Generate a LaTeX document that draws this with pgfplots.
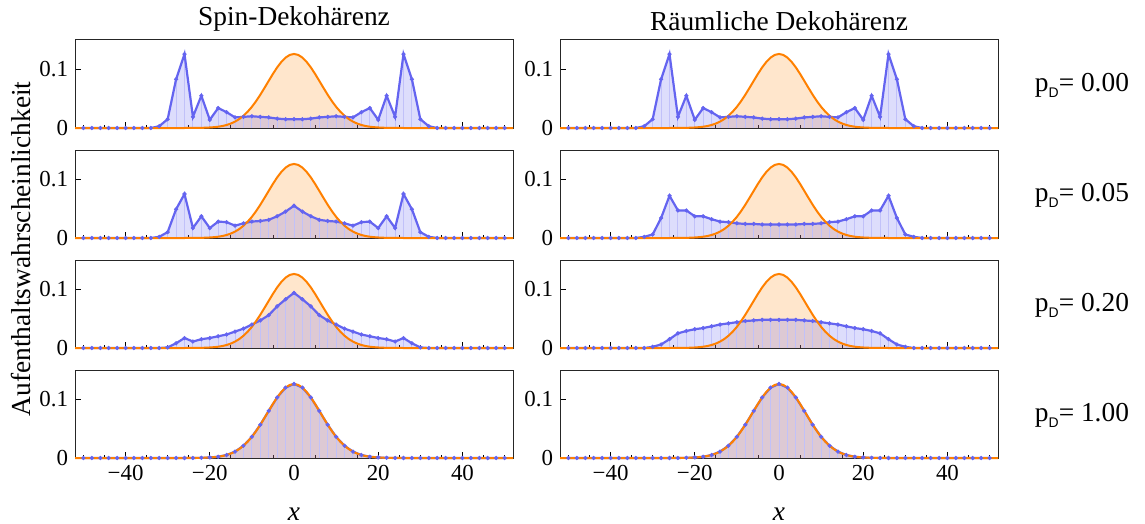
\documentclass[border=0pt]{standalone}
\usepackage{fontspec}
\setmainfont{Liberation Serif}
\setsansfont{Liberation Sans}
\usepackage{pgfplots}
\usepackage{pgfplotstable}
\pgfplotsset{compat=1.18}
\usepgfplotslibrary{groupplots}

\definecolor{qblue}{RGB}{100,100,240}
\definecolor{qorange}{RGB}{255,128,0}
\newcommand{\bigf}{\fontsize{13.75}{16}\selectfont}

% walk distributions at even sites (s = spin, r = spatial decoherence)
\pgfplotstableread{
x s0 s05 s20 s100 r0 r05 r20
-50 0 0 0 0 0 0 0
-48 0 0 0 0 0 0 0
-46 0 0 0 0 0 0 0
-44 0 0 0 0 0 0 0
-42 0 0 0 0 0 0 0
-40 0 0 0 0 0 0 0
-38 0 0 0 0 0 0 0
-36 0 0 0 0 0 0 0
-34 0 0 0 0 0 0 0
-32 0.003 0.002 0 0 0.003 0.002 0
-30 0.015 0.010 0.001 0 0.015 0.006 0.002
-28 0.083 0.049 0.008 0 0.083 0.034 0.006
-26 0.126 0.075 0.017 0 0.126 0.072 0.015
-24 0.019 0.017 0.011 0.0001 0.019 0.047 0.025
-22 0.055 0.037 0.015 0.0003 0.055 0.047 0.029
-20 0.014 0.017 0.017 0.0009 0.014 0.037 0.032
-18 0.034 0.028 0.020 0.0022 0.034 0.037 0.034
-16 0.027 0.027 0.023 0.0051 0.027 0.032 0.037
-14 0.018 0.021 0.028 0.0109 0.018 0.028 0.040
-12 0.019 0.025 0.033 0.0209 0.019 0.027 0.042
-10 0.020 0.028 0.040 0.0361 0.020 0.025 0.044
-8 0.019 0.029 0.047 0.0567 0.019 0.024 0.046
-6 0.018 0.031 0.056 0.0804 0.018 0.024 0.047
-4 0.016 0.037 0.071 0.1033 0.016 0.023 0.048
-2 0.015 0.045 0.083 0.1200 0.015 0.023 0.048
0 0.015 0.055 0.094 0.1262 0.015 0.023 0.048
2 0.015 0.045 0.083 0.1200 0.015 0.023 0.048
4 0.016 0.037 0.071 0.1033 0.016 0.023 0.048
6 0.018 0.031 0.056 0.0804 0.018 0.024 0.047
8 0.019 0.029 0.047 0.0567 0.019 0.024 0.046
10 0.020 0.028 0.040 0.0361 0.020 0.025 0.044
12 0.019 0.025 0.033 0.0209 0.019 0.027 0.042
14 0.018 0.021 0.028 0.0109 0.018 0.028 0.040
16 0.027 0.027 0.023 0.0051 0.027 0.032 0.037
18 0.034 0.028 0.020 0.0022 0.034 0.037 0.034
20 0.014 0.017 0.017 0.0009 0.014 0.037 0.032
22 0.055 0.037 0.015 0.0003 0.055 0.047 0.029
24 0.019 0.017 0.011 0.0001 0.019 0.047 0.025
26 0.126 0.075 0.017 0 0.126 0.072 0.015
28 0.083 0.049 0.008 0 0.083 0.034 0.006
30 0.015 0.010 0.001 0 0.015 0.006 0.002
32 0.003 0.002 0 0 0.003 0.002 0
34 0 0 0 0 0 0 0
36 0 0 0 0 0 0 0
38 0 0 0 0 0 0 0
40 0 0 0 0 0 0 0
42 0 0 0 0 0 0 0
44 0 0 0 0 0 0 0
46 0 0 0 0 0 0 0
48 0 0 0 0 0 0 0
50 0 0 0 0 0 0 0
}\walk

% classical distribution
\pgfplotstableread{
x g
-52 0
-26 0
-24 0.0001
-23 0.0002
-22 0.0003
-21 0.0005
-20 0.0009
-19 0.0014
-18 0.0022
-17 0.0034
-16 0.0051
-15 0.0076
-14 0.0109
-13 0.0153
-12 0.0209
-11 0.0278
-10 0.0361
-9 0.0458
-8 0.0567
-7 0.0684
-6 0.0804
-5 0.0923
-4 0.1033
-3 0.1127
-2 0.1200
-1 0.1246
0 0.1262
1 0.1246
2 0.1200
3 0.1127
4 0.1033
5 0.0923
6 0.0804
7 0.0684
8 0.0567
9 0.0458
10 0.0361
11 0.0278
12 0.0209
13 0.0153
14 0.0109
15 0.0076
16 0.0051
17 0.0034
18 0.0022
19 0.0014
20 0.0009
21 0.0005
22 0.0003
23 0.0002
24 0.0001
26 0
52 0
}\gauss

\newcommand{\panel}[1]{%
  \addplot[draw=none, fill=qorange, fill opacity=0.2] table[x=x, y=g] {\gauss} \closedcycle;
  \addplot[draw=none, fill=qblue, fill opacity=0.22] table[x=x, y=#1] {\walk} \closedcycle;
  \addplot[ycomb, qblue!40, line width=0.5bp] table[x=x, y=#1] {\walk};
  \addplot[qblue, line width=1.1bp] table[x=x, y=#1] {\walk};
  \addplot[qorange, line width=1bp] table[x=x, y=g] {\gauss};
  \addplot[only marks, mark=*, mark size=0.85bp, qblue, mark options={draw=none, fill=qblue}] table[x=x, y=#1] {\walk};
}

\begin{document}
\begin{tikzpicture}
\begin{groupplot}[
    group style={group size=2 by 4, horizontal sep=23.5bp, vertical sep=11bp},
    width=219bp, height=44bp, scale only axis,
    xmin=-52, xmax=52, ymin=0, ymax=0.15,
    xtick={-40,-20,0,20,40},
    minor xtick={-50,-45,...,50},
    ytick={0,0.1}, yticklabels={0,0.1},
    xtick pos=bottom, ytick pos=left,
    tick align=inside,
    major tick length=3bp, minor tick length=1.5bp,
    tick style={black, line width=0.4bp},
    axis line style={black!85, line width=0.5bp},
    tick label style={font=\fontsize{11.5}{12}\selectfont},
    title style={font=\bigf, yshift=-5bp},
    clip=false,
]
\nextgroupplot[title={Spin-Dekohärenz}, xticklabels={}]
\panel{s0}
\nextgroupplot[title={Räumliche Dekohärenz}, xticklabels={}]
\panel{r0}
\nextgroupplot[xticklabels={}]
\panel{s05}
\nextgroupplot[xticklabels={}]
\panel{r05}
\nextgroupplot[xticklabels={}]
\panel{s20}
\nextgroupplot[xticklabels={}]
\panel{r20}
\nextgroupplot[xticklabels={−40,−20,0,20,40}]
\panel{s100}
\nextgroupplot[xticklabels={−40,−20,0,20,40}]
\panel{s100}
\end{groupplot}

\node[rotate=90, font=\bigf] at ([xshift=-27bp]$(group c1r1.north west)!0.5!(group c1r4.south west)$) {Aufenthaltswahrscheinlichkeit};
\node[anchor=base, font=\bigf] at ([yshift=-31bp]group c1r4.south) {\textit{x}};
\node[anchor=base, font=\bigf] at ([yshift=-31bp]group c2r4.south) {\textit{x}};
\node[anchor=base, font=\bigf] at ([xshift=42bp, yshift=-3.8bp]group c2r1.east) {p\raisebox{-2.8bp}{\sffamily\fontsize{7}{7}\selectfont D}= 0.00};
\node[anchor=base, font=\bigf] at ([xshift=42bp, yshift=-3.8bp]group c2r2.east) {p\raisebox{-2.8bp}{\sffamily\fontsize{7}{7}\selectfont D}= 0.05};
\node[anchor=base, font=\bigf] at ([xshift=42bp, yshift=-3.8bp]group c2r3.east) {p\raisebox{-2.8bp}{\sffamily\fontsize{7}{7}\selectfont D}= 0.20};
\node[anchor=base, font=\bigf] at ([xshift=42bp, yshift=-3.8bp]group c2r4.east) {p\raisebox{-2.8bp}{\sffamily\fontsize{7}{7}\selectfont D}= 1.00};

\pgfresetboundingbox
\path ([xshift=-37.5bp, yshift=20bp]group c1r1.north west) rectangle ([xshift=73.5bp, yshift=-33bp]group c2r4.south east);
\end{tikzpicture}
\end{document}
